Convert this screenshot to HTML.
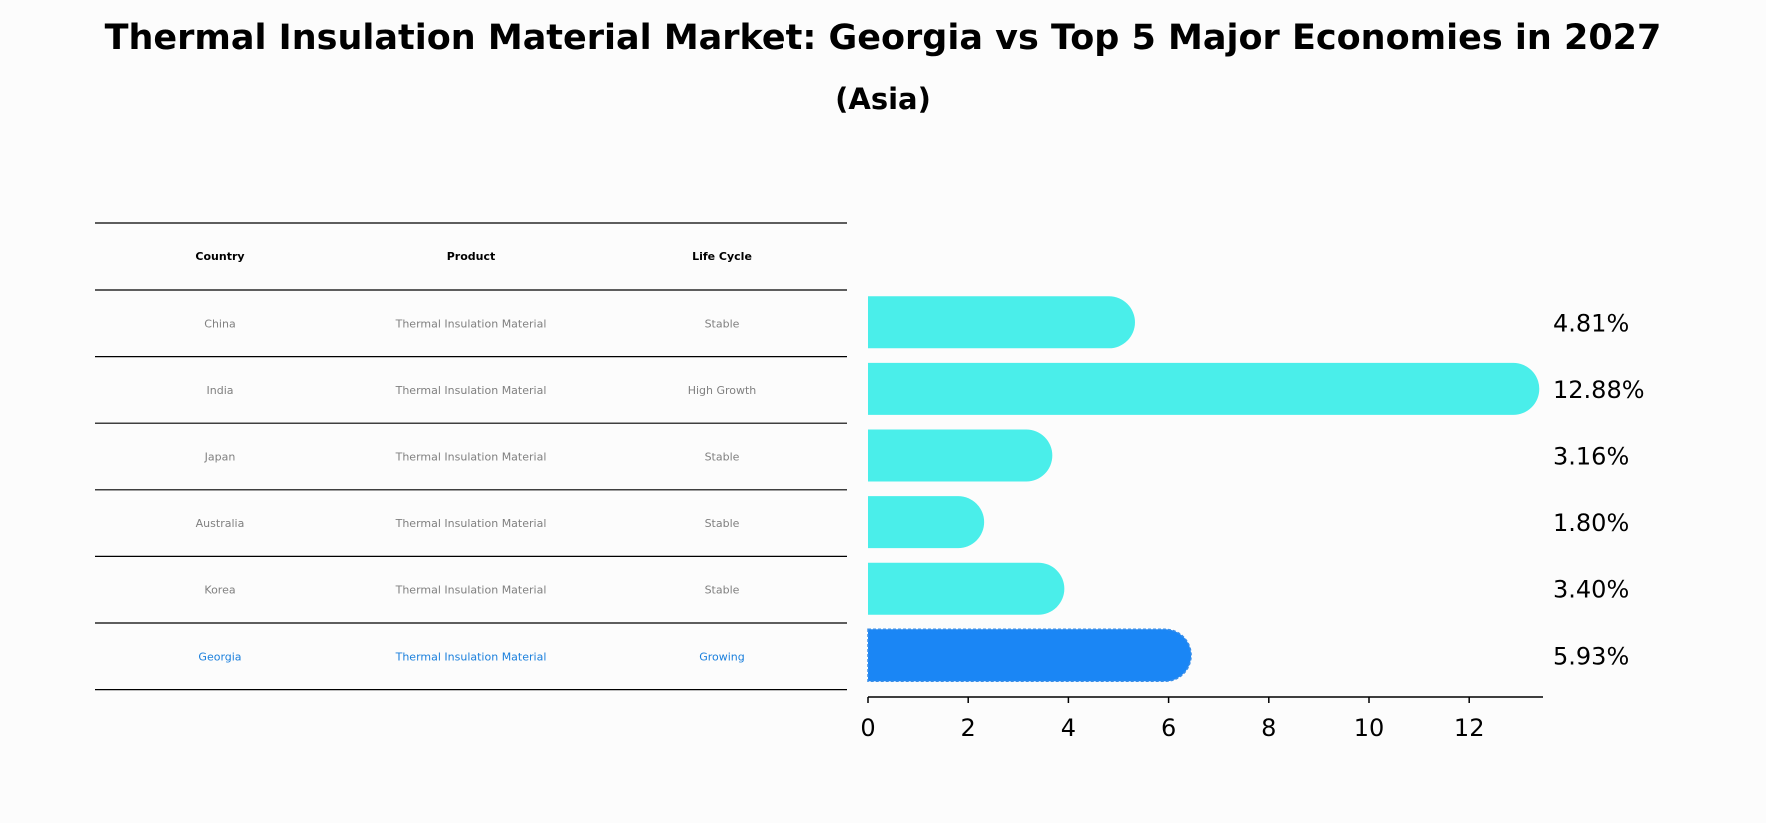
<!DOCTYPE html>
<html><head><meta charset="utf-8"><style>
body{margin:0;background:#fcfcfc;font-family:"DejaVu Sans","Liberation Sans",sans-serif;}
#wrap{position:relative;width:1766px;height:823px;overflow:hidden;background:#fcfcfc;}
</style></head><body>
<div id="wrap">
<svg id="svg" width="1766" height="823" xmlns="http://www.w3.org/2000/svg">
<text x="883" y="49" text-anchor="middle" font-size="35" font-weight="bold" fill="#000">Thermal Insulation Material Market: Georgia vs Top 5 Major Economies in 2027</text>
<text x="883" y="109" text-anchor="middle" font-size="29" font-weight="bold" fill="#000">(Asia)</text>
<g id="table"></g>
<g id="bars"></g>
</svg>
</div>
<script>
const countries=["China","India","Japan","Australia","Korea","Georgia"];
const products=["Thermal Insulation Material","Thermal Insulation Material","Thermal Insulation Material","Thermal Insulation Material","Thermal Insulation Material","Thermal Insulation Material"];
const lifecycles=["Stable","High Growth","Stable","Stable","Stable","Growing"];
const values=[4.81,12.88,3.16,1.80,3.40,5.93];
const xTicks=[0,2,4,6,8,10,12];

const NS="http://www.w3.org/2000/svg";
function mk(tag,attrs,parent){const e=document.createElementNS(NS,tag);for(const k in attrs)e.setAttribute(k,attrs[k]);parent.appendChild(e);return e;}
const x0=868, pxPerUnit=50.1, axisY=697;
function xs(v){return x0+v*pxPerUnit;}
const rowTop=290, rowH=66.6, barH=52;
function yc(i){return rowTop+rowH*i+rowH/2-1;}

// table
const tg=document.getElementById('table');
const colX=[220,471,722];
const hdr=["Country","Product","Life Cycle"];
hdr.forEach((h,j)=>{const t=mk('text',{x:colX[j],y:260,'text-anchor':'middle','font-size':11,'font-weight':'bold',fill:'#000'},tg);t.textContent=h;

});
for(let k=0;k<=7;k++){const y=k==0?223:rowTop+rowH*(k-1);const l=mk('line',{x1:95,x2:847,y1:y,y2:y,stroke:'#000','stroke-width':1.2},tg);

}
countries.forEach((c,i)=>{const col=i==5?'#1a7fdc':'#808080';const cells=[c,products[i],lifecycles[i]];
cells.forEach((v,j)=>{const t=mk('text',{x:colX[j],y:yc(i)+5,'text-anchor':'middle','font-size':11,fill:col},tg);t.textContent=v;

});});

// bars
const bg=document.getElementById('bars');
values.forEach((v,i)=>{const y=yc(i), r=barH/2, xe=xs(v);
const col=i==5?'#1a86f5':'#4aeeea';
const p=mk('path',{d:`M${x0},${y-r} L${xe},${y-r} A${r},${r} 0 0 1 ${xe},${y+r} L${x0},${y+r} Z`,fill:col},bg);
if(i==5){p.setAttribute('stroke','#3a8ee8');p.setAttribute('stroke-dasharray','3,2');p.setAttribute('stroke-width','1.5');}


const t=mk('text',{x:1553,y:y+9,'font-size':24,fill:'#000'},bg);t.textContent=v.toFixed(2)+'%';

});
const ax=mk('line',{x1:x0,x2:1543,y1:axisY,y2:axisY,stroke:'#000','stroke-width':1.5},bg);


xTicks.forEach(v=>{const tk=mk('line',{x1:xs(v),x2:xs(v),y1:axisY,y2:axisY+6,stroke:'#000','stroke-width':1.5},bg);


const t=mk('text',{x:xs(v),y:736,'text-anchor':'middle','font-size':24,fill:'#000'},bg);t.textContent=v;

});
</script>
</body></html>
